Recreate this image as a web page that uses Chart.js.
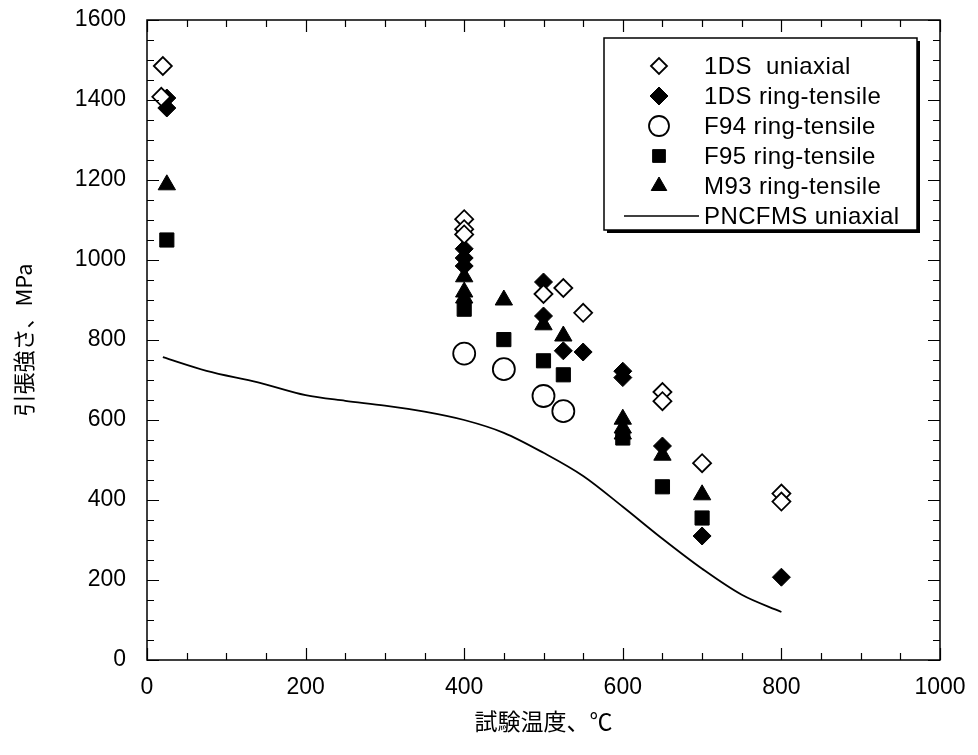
<!DOCTYPE html>
<html>
<head>
<meta charset="utf-8">
<script src="https://cdn.jsdelivr.net/npm/chart.js@4.4.1/dist/chart.umd.min.js"></script>
<style>
  html, body { margin: 0; padding: 0; background: #fff; }
  #wrap { width: 978px; height: 755px; }
</style>
</head>
<body>
<div id="wrap"><canvas id="tensileChart" width="978" height="755"></canvas></div>
<script>
// 1DS uniaxial (open diamonds)
const uniTemp = [20, 18, 400, 400, 400, 500, 525, 550, 650, 650, 700, 800, 800];
const uniStrength = [1485, 1408, 1102, 1077, 1064, 915, 930, 868, 670, 647, 492, 416, 396];

// 1DS ring-tensile (filled diamonds)
const ring1dsTemp = [25, 25, 400, 400, 400, 500, 500, 525, 550, 600, 600, 650, 700, 800];
const ring1dsStrength = [1405, 1380, 1028, 1005, 985, 945, 860, 773, 770, 722, 706, 535, 310, 207];

// F94 ring-tensile (open circles)
const f94Temp = [400, 450, 500, 525];
const f94Strength = [766, 727, 660, 622];

// F95 ring-tensile (filled squares)
const f95Temp = [25, 400, 450, 500, 525, 600, 650, 700];
const f95Strength = [1050, 877, 801, 748, 713, 555, 433, 355];

// M93 ring-tensile (filled triangles)
const m93Temp = [25, 400, 400, 400, 450, 500, 525, 600, 600, 600, 650, 700];
const m93Strength = [1188, 958, 920, 905, 900, 838, 810, 602, 580, 565, 512, 413];

// PNCFMS uniaxial (solid curve)
const pncTemp = [20, 75, 140, 200, 250, 300, 350, 400, 450, 500, 550, 600, 650, 700, 750, 800];
const pncStrength = [757, 723, 694, 662, 648, 636, 621, 600, 568, 518, 460, 383, 303, 228, 163, 120];

const xTicks = [0, 200, 400, 600, 800, 1000];
const yTicks = [0, 200, 400, 600, 800, 1000, 1200, 1400, 1600];

function toPoints(xs, ys) {
    return xs.map((x, i) => ({ x: x, y: ys[i] }));
}

const numFont = "'Liberation Sans', Arial, sans-serif";
const jpFont = "'Noto Sans CJK JP', 'Noto Sans CJK SC', sans-serif";

// inward ticks on all four sides, major every 200, minor every 50
const frameTicks = {
    id: 'frameTicks',
    afterDraw(chart) {
        const ctx = chart.ctx;
        const a = chart.chartArea;
        const xs = chart.scales.x;
        const ys = chart.scales.y;
        ctx.save();
        ctx.strokeStyle = '#000';
        ctx.lineWidth = 1.5;
        ctx.strokeRect(a.left, a.top, a.right - a.left, a.bottom - a.top);
        ctx.lineWidth = 1.2;
        ctx.beginPath();
        for (let v = xs.min; v <= xs.max; v += 50) {
            const px = Math.round(xs.getPixelForValue(v)) + 0.5;
            const len = v % 200 === 0 ? 12 : 7;
            ctx.moveTo(px, a.bottom); ctx.lineTo(px, a.bottom - len);
            ctx.moveTo(px, a.top); ctx.lineTo(px, a.top + len);
        }
        for (let v = ys.min; v <= ys.max; v += 50) {
            const py = Math.round(ys.getPixelForValue(v)) + 0.5;
            const len = v % 200 === 0 ? 12 : 7;
            ctx.moveTo(a.left, py); ctx.lineTo(a.left + len, py);
            ctx.moveTo(a.right, py); ctx.lineTo(a.right - len, py);
        }
        ctx.stroke();
        ctx.restore();
    }
};

// boxed legend inside the plot, with a drop shadow on the right and bottom
const boxLegend = {
    id: 'boxLegend',
    afterDraw(chart) {
        const ctx = chart.ctx;
        const left = 604, top = 38, w = 313, h = 192;
        ctx.save();
        ctx.fillStyle = '#000';
        ctx.fillRect(left + 3, top + 3, w, h);
        ctx.fillStyle = '#fff';
        ctx.fillRect(left, top, w, h);
        ctx.strokeStyle = '#000';
        ctx.lineWidth = 1.5;
        ctx.strokeRect(left, top, w, h);

        ctx.font = '24px ' + numFont;
        ctx.letterSpacing = '0.4px';
        ctx.textBaseline = 'middle';
        ctx.textAlign = 'left';
        chart.data.datasets.forEach((ds, i) => {
            const y = top + 28 + i * 30;
            const mx = left + 55;
            if (ds.showLine) {
                ctx.strokeStyle = '#000';
                ctx.lineWidth = 1.5;
                ctx.beginPath();
                ctx.moveTo(left + 20, y);
                ctx.lineTo(left + 95, y);
                ctx.stroke();
            } else {
                ctx.fillStyle = ds.pointBackgroundColor;
                ctx.strokeStyle = ds.pointBorderColor;
                ctx.lineWidth = ds.pointBorderWidth;
                Chart.helpers.drawPoint(ctx, {
                    pointStyle: ds.pointStyle,
                    radius: ds.legendRadius,
                    borderWidth: ds.pointBorderWidth,
                    rotation: 0
                }, mx, y);
            }
            ctx.fillStyle = '#000';
            ctx.fillText(ds.label, left + 100, y + 1);
        });
        ctx.restore();
    }
};

function scatterSet(label, xs, ys, style, radius, filled, legendRadius) {
    return {
        label: label,
        data: toPoints(xs, ys),
        showLine: false,
        pointStyle: style,
        pointRadius: radius,
        pointHoverRadius: radius,
        pointBackgroundColor: filled ? '#000' : '#fff',
        pointBorderColor: '#000',
        pointBorderWidth: filled ? 1 : 1.8,
        legendRadius: legendRadius
    };
}

const datasets = [
    scatterSet('1DS  uniaxial', uniTemp, uniStrength, 'rectRot', 9, false, 8),
    scatterSet('1DS ring-tensile', ring1dsTemp, ring1dsStrength, 'rectRot', 9, true, 9),
    scatterSet('F94 ring-tensile', f94Temp, f94Strength, 'circle', 11, false, 10),
    scatterSet('F95 ring-tensile', f95Temp, f95Strength, 'rect', 10, true, 9),
    scatterSet('M93 ring-tensile', m93Temp, m93Strength, 'triangle', 10, true, 9),
    {
        label: 'PNCFMS uniaxial',
        data: toPoints(pncTemp, pncStrength),
        showLine: true,
        borderColor: '#000',
        borderWidth: 1.8,
        pointRadius: 0,
        cubicInterpolationMode: 'monotone',
        fill: false
    }
];

new Chart('tensileChart', {
    type: 'scatter',
    data: { datasets: datasets },
    options: {
        responsive: false,
        animation: false,
        layout: { padding: { top: 20, right: 38, bottom: 0, left: 0 } },
        plugins: {
            legend: { display: false },
            tooltip: { enabled: false }
        },
        scales: {
            x: {
                type: 'linear',
                min: 0,
                max: 1000,
                afterFit(scale) {
                    scale.height = 95;
                    scale.paddingLeft = 0;
                    scale.paddingRight = 0;
                },
                afterBuildTicks(scale) { scale.ticks = xTicks.map(v => ({ value: v })); },
                grid: { display: false, drawTicks: false },
                border: { display: false },
                ticks: {
                    color: '#000',
                    padding: 14,
                    maxRotation: 0,
                    callback: v => String(v),
                    font: { family: numFont, size: 23 }
                },
                title: {
                    display: true,
                    text: '試験温度、℃',
                    color: '#000',
                    padding: { top: 0, bottom: 20 },
                    font: { family: jpFont, size: 23 }
                }
            },
            y: {
                type: 'linear',
                min: 0,
                max: 1600,
                afterFit(scale) {
                    scale.width = 147;
                    scale.paddingTop = 0;
                    scale.paddingBottom = 0;
                },
                afterBuildTicks(scale) { scale.ticks = yTicks.map(v => ({ value: v })); },
                grid: { display: false, drawTicks: false },
                border: { display: false },
                ticks: {
                    color: '#000',
                    padding: 21,
                    callback: v => String(v),
                    font: { family: numFont, size: 23 }
                },
                title: {
                    display: true,
                    text: '引張強さ、MPa',
                    color: '#000',
                    padding: { top: 10, bottom: 0 },
                    font: { family: jpFont, size: 22 }
                }
            }
        }
    },
    plugins: [frameTicks, boxLegend]
});
</script>
</body>
</html>
